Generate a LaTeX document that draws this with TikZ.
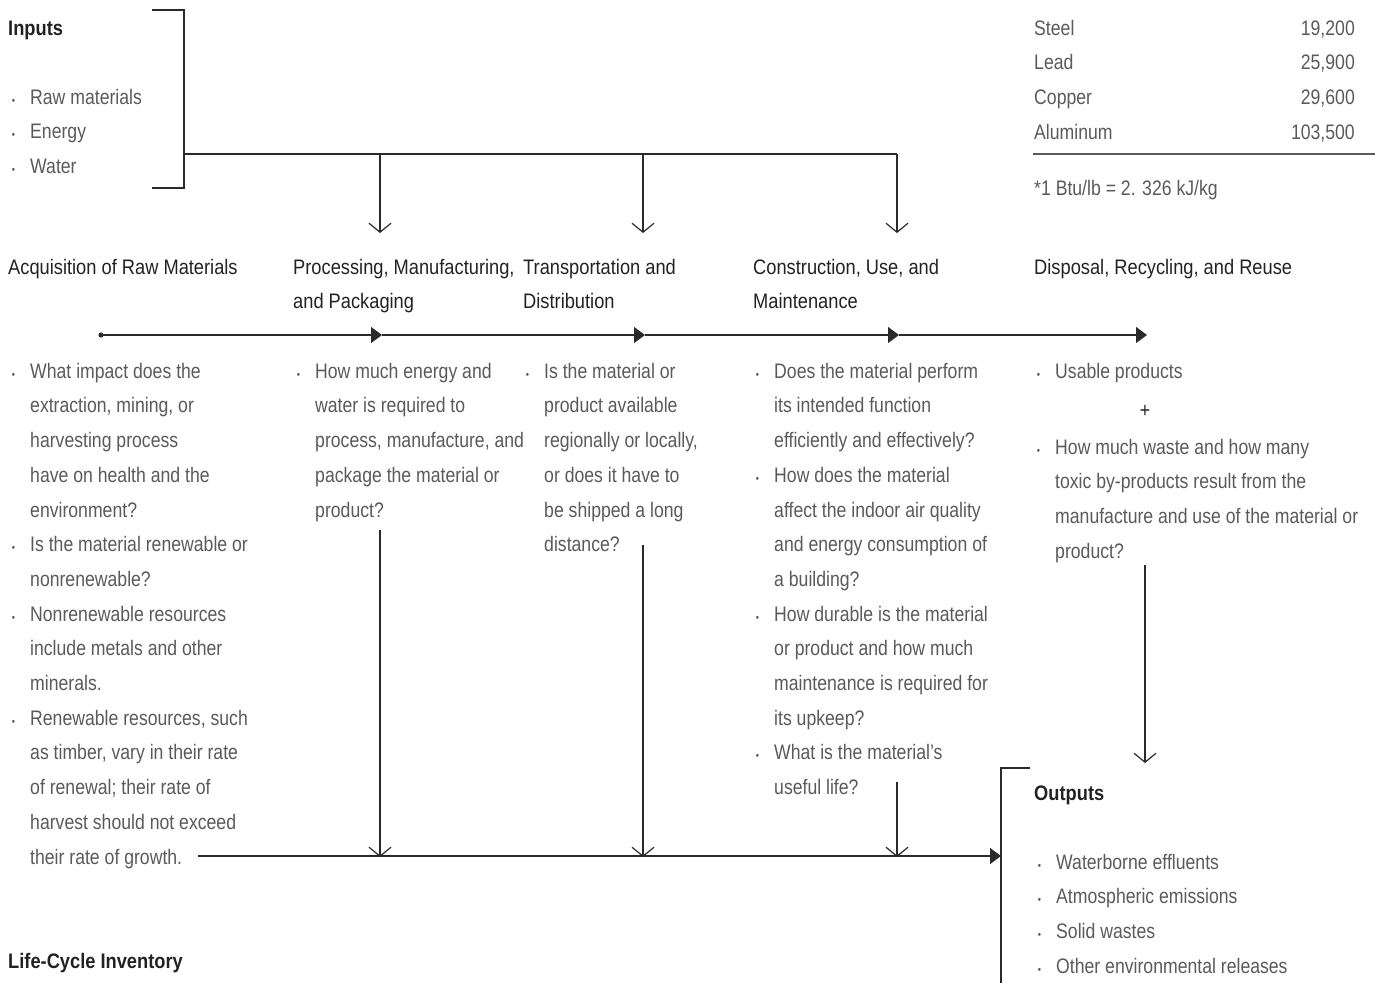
\documentclass[tikz,border=0pt]{standalone}
\usepackage{fontspec}
\setmainfont{Liberation Sans}[FakeStretch=0.84]
\newfontfamily\headfamily{Liberation Sans}[FakeStretch=0.87]
\usetikzlibrary{arrows.meta}
\definecolor{bodygray}{HTML}{5A5A5A}
\definecolor{headgray}{HTML}{222222}
\definecolor{linegray}{HTML}{2A2A2A}
\newcommand\bodyfont{\fontsize{21}{34.7}\selectfont}
\newcommand\headfont{\headfamily\fontsize{21}{34}\selectfont}
\newcommand\bul{\strut\llap{{\fontsize{11}{11}\selectfont\textbullet}\hspace{15pt}}}
% multi-line nodes: anchored at north west, first line carries a strut
% (strut height = 0.7 baselineskip), so node y = first baseline - 0.7*skip
\tikzset{
  body/.style={anchor=north west, inner sep=0, align=left, font=\bodyfont, text=bodygray, execute at begin node=\strut, yshift=24.29},
  head/.style={anchor=north west, inner sep=0, align=left, font=\headfont, text=headgray, execute at begin node=\strut, yshift=23.8},
  title/.style={anchor=base west, inner sep=0, font=\headfont\bfseries, text=headgray},
  conn/.style={draw=linegray, line width=1.2pt},
  solid tip/.style={-{Triangle[length=11pt,width=16pt]}},
  open tip/.style={-{Straight Barb[length=9pt,width=22pt,line width=1.2pt]}},
}
\begin{document}
\begin{tikzpicture}[x=1pt,y=-1pt]
\useasboundingbox (0,0) rectangle (1375,983);

% ---------- Inputs ----------
\node[title] (inputs) at (8,35) {Inputs};
\node[body] (inlist) at (30,104) {\bul Raw materials\\\bul Energy\\\bul Water};
\coordinate (brTL) at (152,10);
\coordinate (brTR) at (184,10);
\coordinate (brBR) at (184,188);
\coordinate (brBL) at (152,188);
\draw[conn] (brTL) -- (brTR) -- (brBR) -- (brBL);
\coordinate (inJ) at (184,154);
\coordinate (f1) at (380,154);
\coordinate (f2) at (643,154);
\coordinate (f3) at (897,154);
\coordinate (f1e) at (380,233);
\coordinate (f2e) at (643,233);
\coordinate (f3e) at (897,233);
\draw[conn] (inJ) -- (f3);
\draw[conn,open tip] (f1) -- (f1e);
\draw[conn,open tip] (f2) -- (f2e);
\draw[conn,open tip] (f3) -- (f3e);

% ---------- Table ----------
\node[body] (tnames) at (1034,35) {\strut Steel\\Lead\\Copper\\Aluminum};
\node[body, anchor=north east, align=right] (tvals) at (1355,35) {\strut 19,200\\25,900\\29,600\\103,500};
\coordinate (ruleL) at (1033,154);
\coordinate (ruleR) at (1375,154);
\draw[draw=bodygray, line width=2.5pt] (ruleL) -- (ruleR);
\node[body] (foot) at (1034,195) {*1 Btu/lb = 2. 326 kJ/kg};

% ---------- Stage headings ----------
\node[head] (h1) at (8,274) {Acquisition of Raw Materials};
\node[head] (h2) at (293,274) {\strut Processing, Manufacturing,\\and Packaging};
\node[head] (h3) at (523,274) {\strut Transportation and\\Distribution};
\node[head] (h4) at (753,274) {\strut Construction, Use, and\\Maintenance};
\node[head] (h5) at (1034,274) {Disposal, Recycling, and Reuse};

% ---------- Timeline ----------
\coordinate (t0) at (101,335);
\coordinate (t1) at (382,335);
\coordinate (t2) at (645,335);
\coordinate (t3) at (899,335);
\coordinate (t4) at (1147,335);
\fill[linegray] (t0) circle (2.6pt);
\draw[conn,solid tip] (t0) -- (t1);
\draw[conn,solid tip] (t1) -- (t2);
\draw[conn,solid tip] (t2) -- (t3);
\draw[conn,solid tip] (t3) -- (t4);

% ---------- Stage questions ----------
\node[body] (q1) at (30,378) {\bul What impact does the\\extraction, mining, or\\harvesting process\\have on health and the\\environment?\\\bul Is the material renewable or\\nonrenewable?\\\bul Nonrenewable resources\\include metals and other\\minerals.\\\bul Renewable resources, such\\as timber, vary in their rate\\of renewal; their rate of\\harvest should not exceed\\their rate of growth.};
\node[body] (q2) at (315,378) {\bul How much energy and\\water is required to\\process, manufacture, and\\package the material or\\product?};
\node[body] (q3) at (544,378) {\bul Is the material or\\product available\\regionally or locally,\\or does it have to\\be shipped a long\\distance?};
\node[body] (q4) at (774,378) {\bul Does the material perform\\its intended function\\efficiently and effectively?\\\bul How does the material\\affect the indoor air quality\\and energy consumption of\\a building?\\\bul How durable is the material\\or product and how much\\maintenance is required for\\its upkeep?\\\bul What is the material's\\useful life?};
\node[body] (q5a) at (1055,378) {\bul Usable products};
\node[anchor=center, inner sep=0, font=\bodyfont, text=headgray] (plus) at (1145,411) {+};
\node[body] (q5b) at (1055,454) {\bul How much waste and how many\\toxic by-products result from the\\manufacture and use of the material or\\product?};

% ---------- Downward connectors ----------
\coordinate (d1s) at (380,530);
\coordinate (d2s) at (643,545);
\coordinate (d3s) at (897,782);
\coordinate (d4s) at (1145,565);
\coordinate (b0) at (198,856);
\coordinate (b1) at (380,857);
\coordinate (b2) at (643,857);
\coordinate (b3) at (897,857);
\coordinate (bend) at (1001,856);
\coordinate (d4e) at (1145,763);
\draw[conn,open tip] (d1s) -- (b1);
\draw[conn,open tip] (d2s) -- (b2);
\draw[conn,open tip] (d3s) -- (b3);
\draw[conn,open tip] (d4s) -- (d4e);
\draw[conn,solid tip] (b0) -- (bend);

% ---------- Outputs ----------
\coordinate (obT) at (1001,768);
\coordinate (obTR) at (1030,768);
\coordinate (obB) at (1001,983);
\draw[conn] (obTR) -- (obT) -- (obB);
\node[title] (outputs) at (1034,800) {Outputs};
\node[body] (outlist) at (1056,869) {\bul Waterborne effluents\\\bul Atmospheric emissions\\\bul Solid wastes\\\bul Other environmental releases};

% ---------- Footer ----------
\node[title] (lci) at (8,968) {Life-Cycle Inventory};
\end{tikzpicture}
\end{document}
